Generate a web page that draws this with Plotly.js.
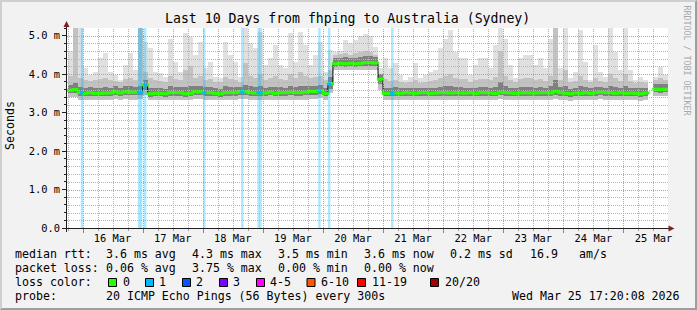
<!DOCTYPE html>
<html><head><meta charset="utf-8">
<script src="https://cdn.plot.ly/plotly-3.0.1.min.js"></script>
<style>
html,body{margin:0;padding:0;background:#f2f2f2;}
#wrap{position:relative;width:697px;height:310px;overflow:hidden;}
#chart{width:697px;height:310px;}
#frame{position:absolute;left:0;top:0;width:697px;height:310px;box-sizing:border-box;
 border-top:2px solid #cfcfcf;border-left:2px solid #cfcfcf;border-right:2px solid #9e9e9e;border-bottom:2px solid #9e9e9e;pointer-events:none;}
</style></head>
<body><div id="wrap"><div id="chart"></div><div id="frame"></div></div>
<script>
// ---------------- DATA ----------------
// RRD buckets: 2 h each, first one starts 18:00 on 15 Mar (hours counted from 15 Mar 00:00)
const startHour = 18;
const stepHours = 2;
// median RTT (ms)
const medianRtt = [
3.58,3.60,3.52,3.50,3.52,3.50,3.50,3.51,3.51,3.54,
3.51,3.54,3.53,3.53,3.53,3.72,3.49,3.50,3.50,3.49,
3.52,3.52,3.52,3.49,3.50,3.54,3.54,3.52,3.52,3.50,
3.49,3.52,3.52,3.52,3.54,3.54,3.52,3.51,3.51,3.51,
3.53,3.50,3.52,3.52,3.53,3.52,3.52,3.53,3.55,3.55,
3.57,3.50,3.75,4.27,4.28,4.27,4.28,4.27,4.28,4.30,
4.30,4.29,3.87,3.50,3.50,3.51,3.50,3.52,3.51,3.50,
3.52,3.52,3.50,3.51,3.52,3.52,3.51,3.52,3.51,3.51,
3.52,3.50,3.52,3.52,3.51,3.50,3.53,3.52,3.51,3.50,
3.51,3.52,3.51,3.51,3.52,3.52,3.51,3.55,3.52,3.50,
3.49,3.51,3.50,3.52,3.50,3.52,3.53,3.52,3.52,3.50,
3.52,3.50,3.51,3.50,3.49,3.51,null,3.61,3.60,3.61];
// smoke: fastest ping (ms)
const minRtt = [
3.40,3.40,3.34,3.33,3.34,3.33,3.32,3.33,3.34,3.35,
3.33,3.35,3.34,3.34,3.35,3.45,3.32,3.33,3.33,3.32,
3.34,3.34,3.33,3.32,3.32,3.35,3.35,3.33,3.34,3.33,
3.32,3.33,3.34,3.34,3.35,3.35,3.34,3.33,3.33,3.33,
3.34,3.32,3.34,3.33,3.34,3.34,3.33,3.34,3.36,3.36,
3.38,3.33,3.50,4.10,4.11,4.10,4.10,4.10,4.11,4.12,
4.12,4.11,3.60,3.33,3.33,3.34,3.33,3.34,3.33,3.32,
3.34,3.34,3.33,3.33,3.34,3.34,3.33,3.34,3.33,3.33,
3.34,3.32,3.34,3.34,3.33,3.32,3.35,3.34,3.33,3.32,
3.33,3.34,3.33,3.33,3.34,3.34,3.33,3.36,3.34,3.32,
3.31,3.33,3.32,3.34,3.32,3.34,3.35,3.34,3.34,3.32,
3.34,3.32,3.33,3.32,3.31,3.33,null,3.42,3.42,3.43];
// smoke: lower edge of dense core (ms)
const lowCoreRtt = [
3.50,3.52,3.44,3.42,3.44,3.42,3.42,3.43,3.43,3.46,
3.43,3.46,3.45,3.45,3.45,3.60,3.41,3.42,3.42,3.41,
3.44,3.44,3.44,3.41,3.42,3.46,3.46,3.44,3.44,3.42,
3.41,3.44,3.44,3.44,3.46,3.46,3.44,3.43,3.43,3.43,
3.45,3.42,3.44,3.44,3.45,3.44,3.44,3.45,3.47,3.47,
3.49,3.42,3.62,4.19,4.20,4.19,4.20,4.19,4.20,4.22,
4.22,4.21,3.75,3.42,3.42,3.43,3.42,3.44,3.43,3.42,
3.44,3.44,3.42,3.43,3.44,3.44,3.43,3.44,3.43,3.43,
3.44,3.42,3.44,3.44,3.43,3.42,3.45,3.44,3.43,3.42,
3.43,3.44,3.43,3.43,3.44,3.44,3.43,3.47,3.44,3.42,
3.41,3.43,3.42,3.44,3.42,3.44,3.45,3.44,3.44,3.42,
3.44,3.42,3.43,3.42,3.41,3.43,null,3.53,3.52,3.53];
// smoke: upper edge of dense core (ms)
const highCoreRtt = [
3.72,3.76,3.66,3.64,3.66,3.64,3.65,3.66,3.65,3.68,
3.64,3.68,3.68,3.67,3.70,3.86,3.64,3.64,3.64,3.62,
3.68,3.67,3.66,3.66,3.68,3.69,3.70,3.66,3.67,3.63,
3.62,3.68,3.67,3.66,3.67,3.72,3.68,3.66,3.70,3.65,
3.67,3.66,3.66,3.65,3.70,3.66,3.70,3.68,3.70,3.70,
3.73,3.64,3.92,4.42,4.43,4.44,4.43,4.43,4.45,4.47,
4.46,4.44,4.00,3.65,3.64,3.66,3.63,3.65,3.64,3.64,
3.65,3.65,3.64,3.65,3.67,3.68,3.69,3.67,3.66,3.65,
3.64,3.65,3.67,3.67,3.65,3.66,3.80,3.68,3.65,3.63,
3.66,3.67,3.66,3.65,3.67,3.65,3.68,3.85,3.66,3.68,
3.62,3.64,3.68,3.66,3.63,3.67,3.66,3.65,3.68,3.66,
3.65,3.68,3.65,3.63,3.63,3.64,null,3.74,3.75,3.74];
// smoke: 90th percentile ping (ms)
const p90Rtt = [
3.95,5.40,3.90,3.85,3.82,3.85,3.88,3.90,3.85,3.82,
3.80,3.88,3.90,3.85,5.40,4.05,3.90,3.85,3.82,3.80,
3.95,3.88,3.84,4.10,4.20,3.90,3.95,3.85,3.88,3.80,
3.80,3.92,3.88,3.86,3.80,4.30,3.95,3.90,4.00,3.85,
3.90,3.95,3.88,3.85,4.00,3.90,4.05,3.95,3.90,3.92,
3.95,3.85,4.10,4.50,4.52,4.55,4.50,4.55,4.58,4.60,
4.58,4.50,3.95,3.88,3.82,3.85,3.80,3.78,3.80,3.85,
3.78,3.80,3.82,3.85,3.90,3.95,4.00,3.90,3.88,3.88,
3.80,3.85,3.88,3.88,3.85,3.92,4.60,3.95,3.85,3.80,
3.88,3.90,3.90,3.85,3.88,3.82,3.95,5.40,3.85,4.10,
3.80,3.82,3.95,3.85,3.80,3.90,3.82,3.80,4.00,3.90,
3.82,4.00,3.82,3.78,3.80,3.78,null,3.85,3.90,3.85];
// smoke: slowest ping (ms)
const maxRtt = [
4.60,5.40,5.40,4.15,3.97,4.06,4.41,4.54,4.06,3.97,
3.84,4.23,4.54,4.10,5.40,4.84,4.67,4.06,4.02,3.93,
4.92,4.32,4.06,5.06,4.97,4.49,4.84,4.15,4.32,3.93,
3.89,4.84,4.49,4.32,3.93,5.40,4.80,4.67,5.10,4.23,
4.41,4.75,4.23,4.15,5.06,4.32,5.10,4.75,4.23,4.49,
4.84,4.06,4.62,4.58,4.60,4.90,4.80,4.90,5.00,5.05,
5.00,4.70,4.15,4.41,4.15,4.28,3.97,3.84,3.93,4.28,
3.89,3.97,4.06,4.10,4.67,4.92,5.14,4.58,4.41,4.41,
3.97,4.23,4.41,4.41,4.15,4.75,5.40,4.92,4.23,3.89,
4.41,4.49,4.49,4.23,4.41,4.15,4.92,5.40,4.15,5.40,
3.89,4.06,5.14,4.32,3.84,4.75,4.06,3.93,5.40,4.58,
4.10,5.40,4.10,3.84,3.93,3.84,null,3.93,4.19,3.97];
// samples with packet loss (hours from 15 Mar 00:00), lost pings and median there
const lossHours = [23.8, 46.6, 47.4, 49.0, 72.6, 87.8, 94.3, 95.1, 118.6, 122.5, 147.7];
const lossPings = [1, 1, 1, 1, 1, 1, 1, 1, 1, 1, 1];
const lossRtt   = [3.52, 3.53, 3.53, 3.72, 3.52, 3.54, 3.52, 3.52, 3.57, 3.75, 3.50];
// axis labels
const dayLabels = ['16 Mar','17 Mar','18 Mar','19 Mar','20 Mar','21 Mar','22 Mar','23 Mar','24 Mar','25 Mar'];
const dayNoonHours = [36, 60, 84, 108, 132, 156, 180, 204, 228, 252];
const yTickVals = [0, 1, 2, 3, 4, 5];
const yTickText = ['0.0', '1.0 m', '2.0 m', '3.0 m', '4.0 m', '5.0 m'];
// legend
const lossLabels = ['0', '1', '2', '3', '4-5', '6-10', '11-19', '20/20'];
const lossColors = ['#26ff00', '#00b8ff', '#0059ff', '#7e00ff', '#ff00ff', '#ff5500', '#ff0000', '#a10000'];
const rttStats  = ['3.6 ms avg', '4.3 ms max', '3.5 ms min', '3.6 ms now', '0.2 ms sd', '16.9', 'am/s'];
const lossStats = ['0.06 % avg', '3.75 % max', '0.00 % min', '0.00 % now'];
const probeText = '20 ICMP Echo Pings (56 Bytes) every 300s';
const dateText  = 'Wed Mar 25 17:20:08 2026';
const titleText = 'Last 10 Days from fhping to Australia (Sydney)';

// ---------------- LAYOUT HELPERS ----------------
const W = 697, H = 310, ML = 67, MR = 29, MT = 28, MB = 82;
const PW = W - ML - MR, PH = H - MT - MB;
const px = x => (x - ML) / PW;
const py = y => (H - MB - y) / PH;
const MONO = 'DejaVu Sans Mono';
const xRange = [17.8, 257.8], yRange = [0, 5.2];
const hx = h => (h - xRange[0]) / (xRange[1] - xRange[0]);

const tCenter = medianRtt.map((_, i) => startHour + stepHours * (i + 0.5));
const tStart = medianRtt.map((_, i) => startHour + stepHours * i);
const diff = (top, bot) => top.map((v, i) => (v == null || bot[i] == null) ? null : v - bot[i]);

const traces = [
  {type: 'bar', x: tCenter, base: minRtt, y: diff(maxRtt, minRtt), width: stepHours,
   marker: {color: '#e0e0e0', line: {width: 0}}, hoverinfo: 'skip'},
  {type: 'bar', x: tCenter, base: minRtt, y: diff(p90Rtt, minRtt), width: stepHours,
   marker: {color: '#c2c2c2', line: {width: 0}}, hoverinfo: 'skip'},
  {type: 'bar', x: tCenter, base: lowCoreRtt, y: diff(highCoreRtt, lowCoreRtt), width: stepHours,
   marker: {color: '#808080', line: {width: 0}}, hoverinfo: 'skip'},
  {type: 'scatter', mode: 'lines', x: tStart, y: medianRtt, line: {shape: 'hv', color: '#000', width: 1},
   connectgaps: false, hoverinfo: 'skip'},
  {type: 'scatter', mode: 'markers', x: tCenter, y: medianRtt,
   marker: {symbol: 'line-ew', size: 5.2, color: lossColors[0], line: {color: lossColors[0], width: 3}}, hoverinfo: 'skip'},
  {type: 'scatter', mode: 'markers', x: lossHours, y: lossRtt,
   marker: {symbol: 'line-ew', size: 3, color: lossPings.map(n => lossColors[n]), line: {color: lossPings.map(n => lossColors[n]), width: 3}}, hoverinfo: 'skip'}
];

const shapes = [];
// loss bars (full height)
lossHours.forEach((h, i) => {
  shapes.push({type: 'rect', layer: 'above', xref: 'x', yref: 'paper', x0: h - 0.5, x1: h + 0.5, y0: 0, y1: 1,
    fillcolor: 'rgba(0,184,255,0.32)', line: {width: 0}});
});
// grid (rrdtool paints it over the graph), 1px-on/1px-off dots
const GRID = '#b4b4b4', MGRID = '#ec8a8a';
for (let h = 18; h <= 257; h += 6) {
  const major = h % 24 === 0;
  const xp = Math.round(ML + hx(h) * PW) + 0.5;
  shapes.push({type: 'line', layer: 'above', xref: 'paper', yref: 'paper', x0: px(xp), x1: px(xp), y0: 0, y1: 1,
    line: {color: major ? MGRID : GRID, width: 1, dash: '1px,1px'}});
  shapes.push({type: 'line', layer: 'above', xref: 'paper', yref: 'paper', x0: px(xp), x1: px(xp), y0: py(229), y1: py(major ? 233 : 231),
    line: {color: major ? '#e06060' : '#a0a0a0', width: 1}});
}
for (let k = 1; k <= 25; k++) {
  const major = k % 5 === 0;
  const yp = Math.round(MT + PH * (1 - (k / 5) / yRange[1])) + 0.5;
  shapes.push({type: 'line', layer: 'above', xref: 'paper', yref: 'paper', x0: 0, x1: 1, y0: py(yp), y1: py(yp),
    line: {color: major ? MGRID : GRID, width: 1, dash: '1px,1px'}});
}
// axes with arrows
shapes.push({type: 'line', layer: 'above', xref: 'paper', yref: 'paper', x0: px(66.5), x1: px(66.5), y0: py(232), y1: py(26),
  line: {color: '#1f1f1f', width: 1}});
shapes.push({type: 'line', layer: 'above', xref: 'paper', yref: 'paper', x0: px(62.5), x1: px(669), y0: py(228.5), y1: py(228.5),
  line: {color: '#1f1f1f', width: 1}});
const P = (x, y) => px(x) + ' ' + py(y);
shapes.push({type: 'path', layer: 'above', xref: 'paper', yref: 'paper',
  path: 'M ' + P(66.5, 21) + ' L ' + P(63.5, 27) + ' L ' + P(69.5, 27) + ' Z', fillcolor: '#801f1f', line: {width: 0}});
shapes.push({type: 'path', layer: 'above', xref: 'paper', yref: 'paper',
  path: 'M ' + P(674.5, 228.5) + ' L ' + P(668.5, 225.5) + ' L ' + P(668.5, 231.5) + ' Z', fillcolor: '#801f1f', line: {width: 0}});

// legend squares
const sqX = [108.5, 145.5, 182.5, 219.5, 256.5, 307, 357.5, 430.5];
lossColors.forEach((c, i) => {
  shapes.push({type: 'rect', layer: 'above', xref: 'paper', yref: 'paper',
    x0: px(sqX[i]), x1: px(sqX[i] + 8), y0: py(286.5), y1: py(278.5),
    fillcolor: c, line: {color: '#000', width: 1}});
});

const ann = [];
const txt = (x, y, s, o = {}) => ann.push(Object.assign({
  xref: 'paper', yref: 'paper', x: px(x), y: py(y), text: s, showarrow: false,
  xanchor: 'left', yanchor: 'middle', borderpad: 0, borderwidth: 0,
  font: {family: MONO, size: 11.6, color: '#000'}}, o));

txt(347.4, 18.5, titleText, {xanchor: 'center', font: {family: MONO, size: 13.2, color: '#000'}});
txt(10, 126, 'Seconds', {xanchor: 'center', textangle: -90});
txt(686.5, 60, 'RRDTOOL / TOBI OETIKER', {xanchor: 'center', textangle: 90, font: {family: MONO, size: 8.3, color: '#a8a8a8'}});

const L1 = 254.3, L2 = 268.3, L3 = 282.3, L4 = 296.2;
const statX = [106.3, 192.3, 278.3, 364.3, 450.3, 529.8, 578.6];
txt(15.3, L1, 'median rtt:');
rttStats.forEach((s, i) => txt(statX[i], L1, s));
txt(15.3, L2, 'packet loss:');
lossStats.forEach((s, i) => txt(statX[i], L2, s));
txt(15.3, L3, 'loss color:');
const lblX = [122.5, 159.3, 196.3, 233.3, 270.3, 321.3, 372.3, 444.6];
lossLabels.forEach((s, i) => txt(lblX[i], L3, s));
txt(15.3, L4, 'probe:');
txt(106.3, L4, probeText);
txt(512, L4, dateText);

const layout = {
  width: W, height: H,
  margin: {l: ML, r: MR, t: MT, b: MB, pad: 0},
  paper_bgcolor: '#f2f2f2', plot_bgcolor: '#ffffff',
  barmode: 'overlay', bargap: 0, showlegend: false,
  font: {family: MONO, size: 10.4, color: '#000'},
  xaxis: {range: xRange, tickmode: 'array', tickvals: dayNoonHours, ticktext: dayLabels,
    ticks: '', showgrid: false, zeroline: false, showline: false,
    tickfont: {family: MONO, size: 10.4, color: '#000'}, ticklabelstandoff: 3},
  yaxis: {range: yRange, tickmode: 'array', tickvals: yTickVals, ticktext: yTickText,
    ticks: 'outside', ticklen: 4, tickwidth: 1, tickcolor: '#1f1f1f',
    minor: {tickmode: 'linear', tick0: 0, dtick: 0.2, ticks: 'outside', ticklen: 2, tickcolor: '#1f1f1f', showgrid: false},
    showgrid: false, zeroline: false, showline: false,
    tickfont: {family: MONO, size: 10.4, color: '#000'}},
  shapes: shapes, annotations: ann
};
Plotly.newPlot('chart', traces, layout, {staticPlot: true, displayModeBar: false});
</script></body></html>
